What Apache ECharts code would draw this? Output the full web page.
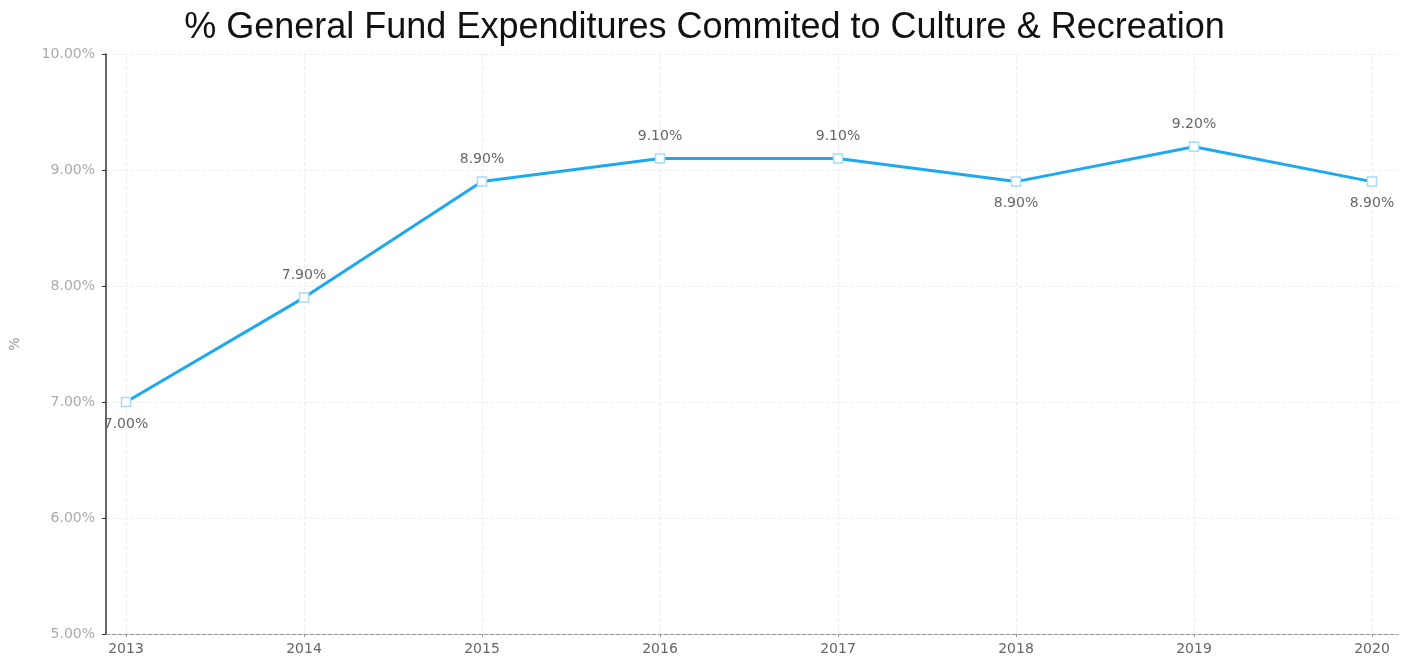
<!DOCTYPE html>
<html>
<head>
<meta charset="utf-8">
<script src="https://cdn.jsdelivr.net/npm/echarts@6/dist/echarts.min.js"></script>
<style>
  html, body { margin: 0; padding: 0; background: #fff; }
  #chart { width: 1409px; height: 662px; }
</style>
</head>
<body>
<div id="chart"></div>
<script>
// Share of general fund spending committed to culture & recreation, by year
const years = ['2013', '2014', '2015', '2016', '2017', '2018', '2019', '2020'];
const pctValues = [7.0, 7.9, 8.9, 9.1, 9.1, 8.9, 9.2, 8.9];
const labelPlacement = ['bottom', 'top', 'top', 'top', 'top', 'bottom', 'top', 'bottom'];
const yTicks = { min: 5, max: 10, step: 1 };

const chart = echarts.init(document.getElementById('chart'));

const fmtPct = v => v.toFixed(2) + '%';
const textFont = 'DejaVu Sans, Verdana, sans-serif';

chart.setOption({
  animation: false,
  backgroundColor: '#ffffff',
  title: {
    text: '% General Fund Expenditures Commited to Culture & Recreation',
    left: 'center',
    top: 5,
    textStyle: { fontFamily: 'Liberation Sans, Arial, sans-serif', fontSize: 36, fontWeight: 'normal', color: '#111' }
  },
  grid: [
    // outer frame: y axis, horizontal grid lines and dashed baseline
    { left: 102, right: 11, top: 54, bottom: 28, containLabel: false },
    // inner plot area where the categories sit
    { left: 126, right: 37, top: 54, bottom: 28, containLabel: false }
  ],
  xAxis: [
    {
      gridIndex: 0, type: 'value', min: 0, max: 1,
      axisLine: { show: true, lineStyle: { color: '#999', type: 'dashed', width: 1 } },
      axisTick: { show: false }, axisLabel: { show: false }, splitLine: { show: false }
    },
    {
      gridIndex: 1, type: 'category', data: years, boundaryGap: false,
      axisLine: { show: false },
      axisTick: { show: true, alignWithLabel: true, length: 3, lineStyle: { color: '#999' } },
      axisLabel: { color: '#666', fontSize: 14, margin: 8, fontFamily: textFont },
      splitLine: { show: true, lineStyle: { color: '#eee', type: 'dashed' } }
    }
  ],
  yAxis: [
    {
      gridIndex: 0, type: 'value', min: yTicks.min, max: yTicks.max, interval: yTicks.step,
      name: '%', nameLocation: 'middle', nameGap: 84, nameRotate: 90,
      nameTextStyle: { color: '#999', fontSize: 14, fontFamily: textFont },
      axisLine: { show: true, lineStyle: { color: '#333', width: 1.5 } },
      axisTick: { show: true, length: 4, lineStyle: { color: '#333' } },
      axisLabel: { color: '#aaa', fontSize: 14, margin: 11, formatter: fmtPct, fontFamily: textFont },
      splitLine: { show: true, lineStyle: { color: '#eee', type: 'dashed' } }
    },
    {
      gridIndex: 1, type: 'value', min: yTicks.min, max: yTicks.max, interval: yTicks.step,
      axisLine: { show: false }, axisTick: { show: false }, axisLabel: { show: false }, splitLine: { show: false }
    }
  ],
  series: [
    {
      type: 'line',
      xAxisIndex: 1,
      yAxisIndex: 1,
      data: pctValues.map((v, i) => ({
        value: v,
        label: { position: labelPlacement[i] }
      })),
      symbol: 'rect',
      symbolSize: 9,
      lineStyle: { color: '#1ea9ef', width: 3 },
      itemStyle: { color: '#ffffff', borderColor: '#a6dcf8', borderWidth: 1.5 },
      label: {
        show: true,
        distance: 10,
        color: '#666',
        fontSize: 14,
        fontFamily: textFont,
        formatter: p => fmtPct(p.value)
      },
      z: 5
    }
  ]
});
</script>
</body>
</html>
